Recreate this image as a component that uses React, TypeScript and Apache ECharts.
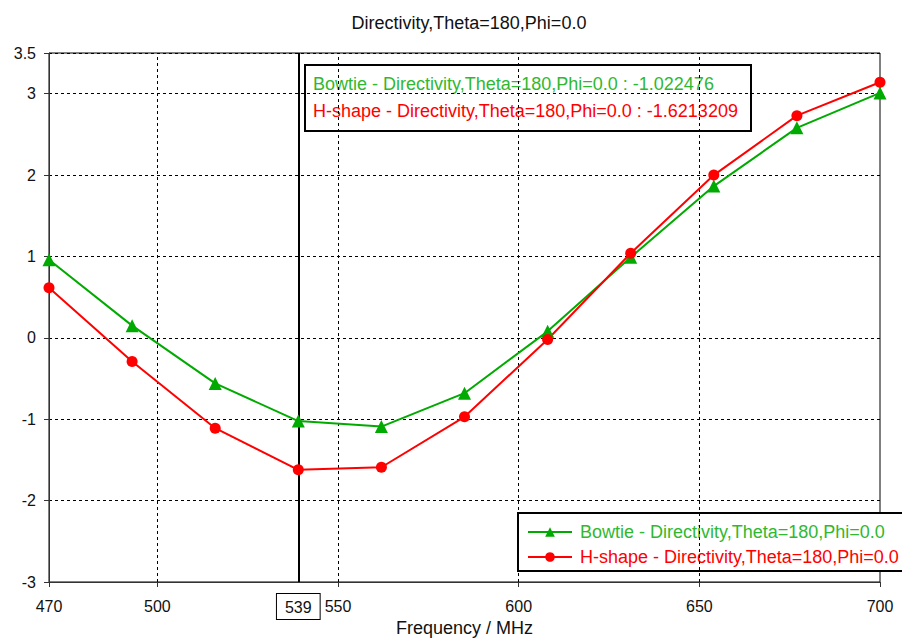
import React, { useEffect, useRef } from "react";
import * as echarts from "echarts";

const freqs = [470, 493, 516, 539, 562, 585, 608, 631, 654, 677, 700];
const bowtie = [0.96, 0.15, -0.56, -1.022476, -1.09, -0.68, 0.08, 0.99, 1.865, 2.58, 3.01];
const hshape = [0.615, -0.29, -1.11, -1.6213209, -1.59, -0.97, -0.02, 1.04, 2.0, 2.73, 3.14];
const xTickLabels = [470, 500, 550, 600, 650, 700];
const xGridValues = [500, 550, 600, 650];
const markerFreq = 539;
const markerBowtie = -1.022476;
const markerHshape = -1.6213209;
const seriesNames = [
  "Bowtie - Directivity,Theta=180,Phi=0.0",
  "H-shape - Directivity,Theta=180,Phi=0.0",
];
const titleText = "Directivity,Theta=180,Phi=0.0";
const xAxisName = "Frequency / MHz";

const GREEN = "#00aa00";
const GREEN_TEXT = "#30b830";
const RED = "#ff0000";
const FONT = "'Liberation Sans', Arial, sans-serif";

export default function App() {
  const ref = useRef<HTMLDivElement>(null);
  useEffect(() => {
    if (!ref.current) return;
    const chart = echarts.init(ref.current, null, { renderer: "svg" });
    const option: any = {
      animation: false,
      backgroundColor: "#ffffff",
      textStyle: { fontFamily: FONT },
      title: {
        text: titleText,
        left: 464,
        top: 9,
        textAlign: "center",
        textStyle: { fontSize: 18, fontWeight: "normal", color: "#111", fontFamily: FONT },
      },
      grid: {
        left: 49,
        right: 22,
        top: 53,
        bottom: 62,
        containLabel: false,
        outerBoundsMode: "none",
        show: true,
        borderColor: "#000",
        borderWidth: 1,
        backgroundColor: "#fff",
      },
      legend: {
        orient: "vertical",
        left: 518,
        top: 513,
        backgroundColor: "#fff",
        borderColor: "#000",
        borderWidth: 2,
        padding: [10, 40, 5, 9],
        itemGap: 7,
        itemWidth: 44,
        itemHeight: 12,
        textStyle: { fontSize: 18, fontFamily: FONT, padding: [0, 0, 0, 3] },
        data: [
          { name: seriesNames[0], textStyle: { color: GREEN_TEXT } },
          { name: seriesNames[1], textStyle: { color: RED } },
        ],
      },
      xAxis: {
        type: "value",
        min: 470,
        max: 700,
        name: xAxisName,
        nameLocation: "middle",
        nameGap: 36,
        nameTextStyle: { fontSize: 18, color: "#111", fontFamily: FONT },
        axisLine: { show: true, onZero: false, lineStyle: { color: "#333", width: 1 } },
        axisTick: { show: true, length: 5, customValues: xTickLabels, lineStyle: { color: "#333" } },
        axisLabel: {
          customValues: xTickLabels,
          fontSize: 16,
          color: "#111",
          margin: 16,
          fontFamily: FONT,
        },
        splitLine: { show: false },
      },
      yAxis: {
        type: "value",
        min: -3,
        max: 3.5,
        interval: 1,
        axisLine: { show: true, lineStyle: { color: "#333", width: 1 } },
        axisTick: { show: true, length: 5, lineStyle: { color: "#333" } },
        axisLabel: { fontSize: 16, color: "#111", margin: 13, fontFamily: FONT },
        splitLine: { show: true, lineStyle: { color: "#000", type: [3, 3], width: 1 } },
      },
      series: [
        {
          name: seriesNames[0],
          type: "line",
          data: freqs.map((f, i) => [f, bowtie[i]]),
          symbol: "triangle",
          symbolSize: 13,
          color: GREEN,
          lineStyle: { color: GREEN, width: 2 },
          itemStyle: { color: GREEN },
          z: 5,
          markLine: {
            silent: true,
            symbol: "none",
            animation: false,
            label: { show: false },
            lineStyle: { color: "#000", type: [3, 3], width: 1 },
            data: xGridValues.map((v) => ({ xAxis: v })),
          },
        },
        {
          name: seriesNames[1],
          type: "line",
          data: freqs.map((f, i) => [f, hshape[i]]),
          symbol: "circle",
          symbolSize: 11,
          color: RED,
          lineStyle: { color: RED, width: 2 },
          itemStyle: { color: RED },
          z: 5,
          markLine: {
            silent: true,
            symbol: "none",
            animation: false,
            lineStyle: { color: "#000", type: "solid", width: 2 },
            label: {
              show: true,
              position: "start",
              distance: 12,
              formatter: String(markerFreq),
              fontSize: 16,
              color: "#111",
              backgroundColor: "#fff",
              borderColor: "#000",
              borderWidth: 1,
              padding: [5, 8, 4, 8],
              fontFamily: FONT,
            },
            data: [{ xAxis: markerFreq }],
          },
        },
      ],
      graphic: [
        {
          type: "group",
          left: 304,
          top: 64,
          z: 100,
          children: [
            {
              type: "rect",
              shape: { x: 0, y: 0, width: 446, height: 66 },
              style: { fill: "#fff", stroke: "#000", lineWidth: 2 },
            },
            {
              type: "text",
              x: 8,
              y: 19,
              style: {
                text: `${seriesNames[0]} : ${markerBowtie}`,
                fill: GREEN_TEXT,
                font: `18px ${FONT}`,
                textVerticalAlign: "middle",
                verticalAlign: "middle",
              },
            },
            {
              type: "text",
              x: 8,
              y: 46,
              style: {
                text: `${seriesNames[1]} : ${markerHshape}`,
                fill: RED,
                font: `18px ${FONT}`,
                textVerticalAlign: "middle",
                verticalAlign: "middle",
              },
            },
          ],
        },
      ],
    };
    chart.setOption(option);
    return () => chart.dispose();
  }, []);
  return <div ref={ref} style={{ width: 902, height: 644, position: "absolute", left: 0, top: 0 }} />;
}
